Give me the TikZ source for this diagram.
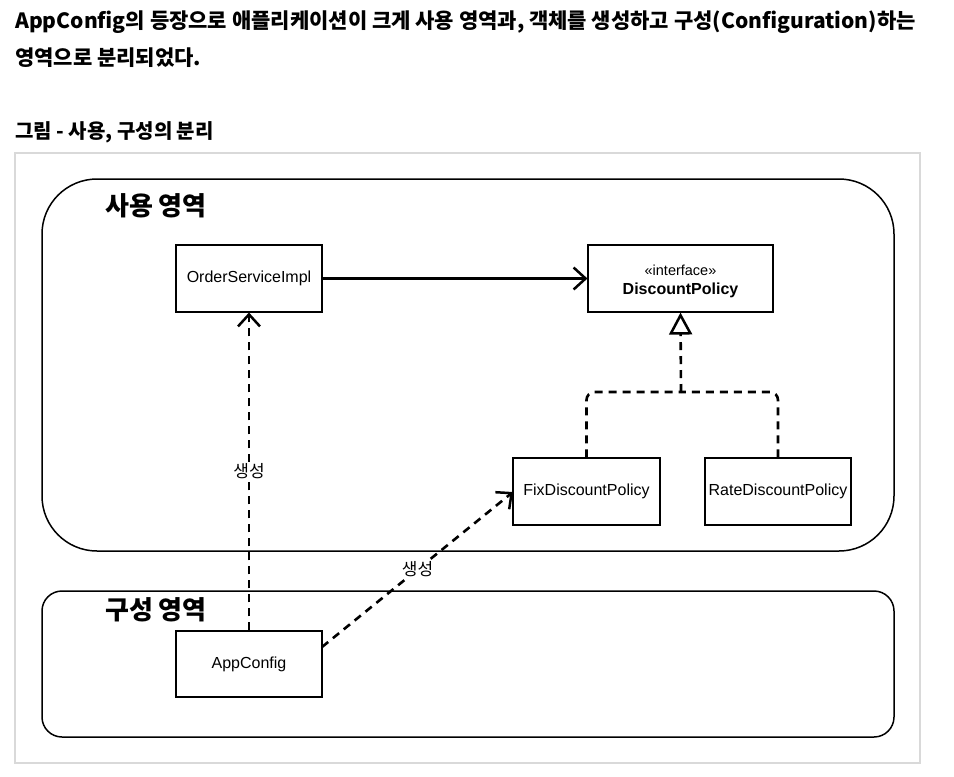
\documentclass[tikz,border=0pt]{standalone}
\usepackage{fontspec}
\setmainfont{Liberation Sans}
\newfontfamily\kr{Noto Sans CJK KR}
\usetikzlibrary{arrows.meta,positioning}
\tikzset{
  cls/.style={draw, line width=1.1pt, minimum width=#1, minimum height=67pt, inner sep=0pt, font=\fontsize{16}{19}\selectfont},
  region/.style={draw, line width=1.5pt, inner sep=0pt},
  dep/.style={line width=2.6pt, dash pattern=on 8pt off 6pt},
  assoc/.style={line width=2.5pt},
  barb/.style={-{Straight Barb[length=12pt,width=22pt,line width=2.5pt]}},
  realize/.style={-{Triangle[open,fill=white,length=22pt,width=23pt,line width=2.5pt]}},
  lbl/.style={fill=white, inner sep=1.5pt, font=\kr\fontsize{17}{20}\selectfont},
  regtitle/.style={anchor=west, inner sep=0pt, font=\kr\bfseries\fontsize{26}{30}\selectfont},
  headline/.style={anchor=west, inner sep=0pt, font=\kr\bfseries\fontsize{21}{24}\selectfont},
}
\begin{document}
\begin{tikzpicture}[x=1pt,y=-1pt]
\useasboundingbox (0,0) rectangle (954,777);
% headings
\node[headline] (h1) at (15,22) {AppConfig의 등장으로 애플리케이션이 크게 사용 영역과, 객체를 생성하고 구성(Configuration)하는};
\node[headline] (h2) at (15,58) {영역으로 분리되었다.};
\node[headline, font=\kr\bfseries\fontsize{20}{23}\selectfont] (h3) at (15,132) {그림 - 사용, 구성의 분리};
% frame
\node[draw=black!15, line width=1.5pt, minimum width=905pt, minimum height=610pt, inner sep=0pt] (frame) at (467.5,458) {};
% regions
\node[region, rounded corners=55pt, minimum width=852pt, minimum height=372pt] (use) at (468,365) {};
\node[region, rounded corners=20pt, minimum width=852pt, minimum height=146pt] (cfg) at (468,664) {};
\node[regtitle] (uset) at (105,206) {사용 영역};
\node[regtitle] (cfgt) at (105,610) {구성 영역};
% classes
\node[cls=146pt] (osi) at (249,278.5) {OrderServiceImpl};
\node[cls=185pt] (dp) at (680.5,278.5) {};
\node[align=center, inner sep=0pt, font=\fontsize{16}{19}\selectfont] (dpt) at (680.5,281) {\fontsize{14.5}{19}\selectfont«interface»\\[0pt]\textbf{DiscountPolicy}};
\node[cls=147pt] (fix) at (586.5,491.5) {FixDiscountPolicy};
\node[cls=146pt] (rate) at (778,491.5) {RateDiscountPolicy};
\node[cls=146pt, minimum height=66pt] (app) at (249,664) {AppConfig};
% connectors
\draw[assoc, barb] (osi.east) -- (dp.west);
\coordinate (j) at (681,392);
\draw[dep, rounded corners=8pt] (fix.north) |- (j);
\draw[dep, rounded corners=8pt] (rate.north) |- (j);
\draw[dep, realize] (j) -- (dp.south);
\draw[dep, barb] (app.north) -- node[lbl, pos=0.5] (l1) {생성} (osi.south);
\coordinate (s) at (322,647);
\coordinate (e) at (513,492);
\draw[dep, barb] (s) -- node[lbl, pos=0.5] (l2) {생성} (e);
\end{tikzpicture}
\end{document}
